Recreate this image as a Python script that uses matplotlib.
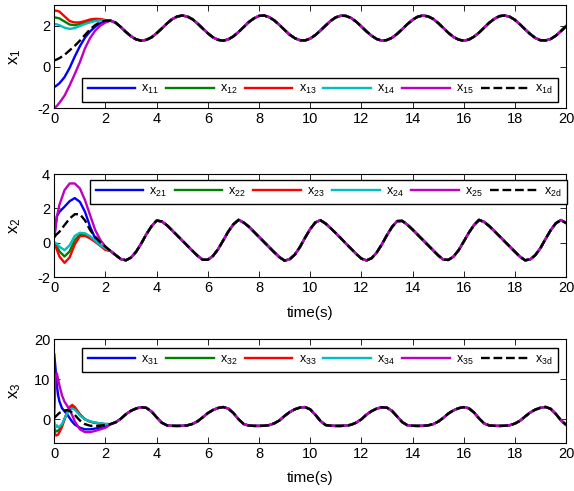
import numpy as np
import matplotlib.pyplot as plt

plt.rcParams['font.family'] = ['Liberation Sans', 'DejaVu Sans']
plt.rcParams['mathtext.default'] = 'regular'
plt.rcParams['axes.unicode_minus'] = False

# transient part (t <= 2 s)
t_a = [0, 0.1, 0.2, 0.4, 0.6, 0.8, 1.0, 1.2, 1.4, 1.6, 1.8, 2.0]
t_b = [0, 0.05, 0.1, 0.15, 0.2, 0.3, 0.4, 0.5, 0.6, 0.7, 0.8, 1.0, 1.2, 1.4, 1.6, 1.8, 2.0]

x11 = [-0.98, -0.9, -0.8, -0.5, -0.05, 0.5, 1.0, 1.42, 1.72, 1.95, 2.12, 2.22]
x12 = [2.4, 2.38, 2.35, 2.2, 2.05, 2.02, 2.08, 2.16, 2.24, 2.28, 2.28, 2.26]
x13 = [2.73, 2.72, 2.68, 2.45, 2.22, 2.15, 2.16, 2.22, 2.30, 2.33, 2.32, 2.27]
x14 = [2.08, 2.06, 2.02, 1.90, 1.84, 1.88, 1.98, 2.08, 2.16, 2.22, 2.25, 2.25]
x15 = [-2.0, -1.9, -1.75, -1.4, -0.9, -0.35, 0.23, 0.9, 1.4, 1.76, 2.0, 2.15]
x1d = [0.31, 0.36, 0.42, 0.58, 0.80, 1.02, 1.27, 1.55, 1.82, 2.03, 2.17, 2.24]

x21 = [0.35, 1.55, 1.8, 2.1, 2.42, 2.6, 2.38, 1.8, 0.93, 0.25, -0.14, -0.33]
x22 = [0.0, -0.2, -0.5, -0.8, -0.5, 0.15, 0.48, 0.48, 0.32, 0.08, -0.16, -0.38]
x23 = [0.0, -0.4, -0.8, -1.17, -0.85, -0.1, 0.38, 0.40, 0.25, 0.05, -0.18, -0.42]
x24 = [0.02, -0.05, -0.23, -0.43, -0.15, 0.40, 0.58, 0.55, 0.38, 0.12, -0.14, -0.33]
x25 = [0.35, 1.5, 2.2, 3.06, 3.45, 3.45, 3.16, 2.48, 1.6, 0.74, 0.16, -0.23]
x2d = [0.35, 0.5, 0.64, 1.03, 1.41, 1.66, 1.66, 1.3, 0.74, 0.35, 0.02, -0.23]

x31 = [16.2, 12.5, 8.5, 6.0, 4.5, 2.8, 2.0, 1.3, 0.3, -0.6, -1.3, -2.1, -2.5, -2.5, -2.3, -2.1, -1.9]
x32 = [-2.0, -3.0, -3.0, -2.8, -2.5, -1.5, 0.1, 1.6, 2.8, 3.1, 2.7, 1.1, 0.0, -0.55, -0.85, -1.05, -1.2]
x33 = [-3.0, -4.0, -4.0, -3.8, -3.2, -1.9, 0.0, 1.8, 3.1, 3.6, 3.1, 1.3, 0.0, -0.6, -0.9, -1.1, -1.25]
x34 = [-0.5, -2.0, -1.5, -2.0, -1.8, -1.2, 0.2, 1.5, 2.5, 2.7, 2.4, 1.0, 0.0, -0.5, -0.8, -1.0, -1.15]
x35 = [1.0, 11.0, 11.5, 10.0, 8.5, 6.0, 4.4, 3.4, 2.4, 1.0, -0.5, -2.5, -3.2, -3.2, -2.9, -2.5, -2.1]
x3d = [0.3, 0.7, 1.0, 1.3, 1.6, 2.0, 2.2, 2.3, 2.1, 1.7, 1.1, -0.3, -1.2, -1.6, -1.7, -1.6, -1.4]

# tracking part (t >= 2.2 s), all states follow the reference
t_ss = np.round(np.arange(2.2, 20.001, 0.2), 1)
x1_ss = [2.24, 2.14, 1.93, 1.69, 1.48, 1.33, 1.27, 1.31, 1.43, 1.63,
         1.86, 2.10, 2.31, 2.44, 2.49, 2.44, 2.31, 2.10, 1.86, 1.63,
         1.43, 1.31, 1.27, 1.33, 1.48, 1.69, 1.93, 2.17, 2.35, 2.47,
         2.49, 2.41, 2.25, 2.03, 1.79, 1.56, 1.39, 1.29, 1.28, 1.37,
         1.54, 1.76, 2.00, 2.23, 2.40, 2.48, 2.47, 2.37, 2.19, 1.96,
         1.72, 1.51, 1.35, 1.27, 1.30, 1.41, 1.60, 1.83, 2.07, 2.28,
         2.43, 2.49, 2.45, 2.33, 2.13, 1.89, 1.65, 1.45, 1.32, 1.27,
         1.32, 1.46, 1.66, 1.90, 2.14, 2.33, 2.46, 2.49, 2.43, 2.28,
         2.06, 1.82, 1.59, 1.40, 1.29, 1.28, 1.35, 1.51, 1.73, 1.97]
x2_ss = [-0.48, -0.72, -0.95, -1.02, -0.86, -0.52, -0.04, 0.50, 0.96, 1.29,
         1.24, 1.02, 0.73, 0.43, 0.13, -0.17, -0.47, -0.76, -0.99, -0.99,
         -0.77, -0.38, 0.13, 0.65, 1.07, 1.33, 1.18, 0.94, 0.64, 0.34,
         0.04, -0.26, -0.56, -0.84, -1.04, -0.96, -0.69, -0.25, 0.29, 0.79,
         1.18, 1.31, 1.12, 0.85, 0.56, 0.26, -0.05, -0.35, -0.65, -0.92,
         -1.03, -0.90, -0.57, -0.10, 0.44, 0.92, 1.26, 1.27, 1.05, 0.77,
         0.47, 0.17, -0.13, -0.43, -0.73, -0.98, -1.00, -0.81, -0.44, 0.06,
         0.58, 1.02, 1.33, 1.21, 0.97, 0.68, 0.38, 0.08, -0.22, -0.52,
         -0.81, -1.02, -0.97, -0.72, -0.31, 0.22, 0.73, 1.13, 1.32, 1.15]
x3_ss = [-1.20, -0.73, 0.15, 1.29, 2.14, 2.72, 3.03, 2.85, 1.95, 0.50,
         -0.85, -1.50, -1.63, -1.65, -1.63, -1.50, -1.15, -0.50, 0.50, 1.55,
         2.33, 2.83, 3.07, 2.70, 1.57, 0.03, -1.17, -1.56, -1.64, -1.65,
         -1.61, -1.44, -1.00, -0.27, 0.85, 1.81, 2.51, 2.93, 3.06, 2.49,
         1.16, -0.39, -1.42, -1.60, -1.65, -1.65, -1.58, -1.36, -0.83, 0.00,
         1.18, 2.05, 2.68, 3.01, 2.91, 2.11, 0.70, -0.71, -1.48, -1.62,
         -1.65, -1.63, -1.52, -1.21, -0.60, 0.35, 1.44, 2.24, 2.78, 3.05,
         2.77, 1.73, 0.23, -1.04, -1.53, -1.63, -1.65, -1.62, -1.47, -1.07,
         -0.37, 0.70, 1.70, 2.43, 2.88, 3.09, 2.62, 1.35, -0.24, -1.36]

colors = ['b', (0, 0.5, 0), 'r', (0, 0.75, 0.75), (0.75, 0, 0.75)]

fig = plt.figure(figsize=(5.74, 4.91), dpi=100)
ax1 = fig.add_axes([0.0946, 0.780, 0.8915, 0.2098])
ax2 = fig.add_axes([0.0946, 0.4356, 0.8915, 0.2100])
ax3 = fig.add_axes([0.0946, 0.0971, 0.8915, 0.2118])

panels = [
    (ax1, t_a, [x11, x12, x13, x14, x15], x1d, x1_ss, '1', (-2, 3), [-2, 0, 2],
     (0.054, 0.058, 0.930, 0.253), 'lower left'),
    (ax2, t_a, [x21, x22, x23, x24, x25], x2d, x2_ss, '2', (-2, 4), [-2, 0, 2, 4],
     (0.070, 0.68, 0.932, 0.262), 'upper left'),
    (ax3, t_b, [x31, x32, x33, x34, x35], x3d, x3_ss, '3', (-6, 20), [0, 10, 20],
     (0.054, 0.666, 0.930, 0.25), 'upper left'),
]

for ax, t0, series, ref, ss, n, ylim, yticks, bbox, loc in panels:
    t = np.concatenate([t0, t_ss])
    for i, (s, c) in enumerate(zip(series, colors)):
        ax.plot(t, np.concatenate([s, ss]), color=c, lw=1.7,
                label=r'$x_{%s%d}$' % (n, i + 1))
    ax.plot(t, np.concatenate([ref, ss]), 'k--', lw=1.7, label=r'$x_{%sd}$' % n)
    ax.set_xlim(0, 20)
    ax.set_ylim(*ylim)
    ax.set_xticks(range(0, 21, 2))
    ax.set_yticks(yticks)
    ax.tick_params(direction='in', top=True, right=True, length=4, width=0.6,
                   labelsize=10.5, pad=3)
    for sp in ax.spines.values():
        sp.set_linewidth(0.8)
    ax.set_ylabel(r'$x_%s$' % n, fontsize=12)
    ax.yaxis.set_label_coords(-0.062, 0.5)
    leg = ax.legend(ncol=6, loc=loc, bbox_to_anchor=bbox, mode='expand',
                    borderaxespad=0, fontsize=9, handlelength=3.8,
                    handletextpad=0.5, fancybox=False, edgecolor='k',
                    framealpha=1, borderpad=0.45)
    leg.get_frame().set_linewidth(1.0)

ax2.set_xlabel('time(s)', fontsize=11, labelpad=8)
ax3.set_xlabel('time(s)', fontsize=11, labelpad=7)

fig.savefig('out.png', dpi=100)
